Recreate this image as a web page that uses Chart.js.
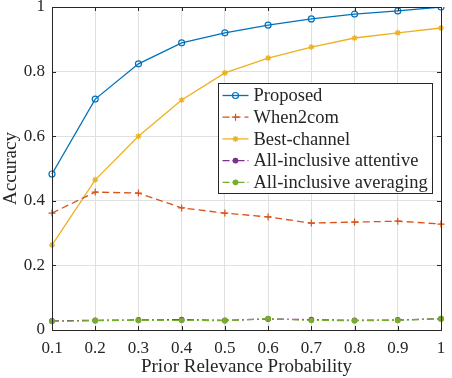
<!DOCTYPE html>
<html>
<head>
<meta charset="utf-8">
<style>
  html, body { margin: 0; padding: 0; background: #fff; }
  canvas { display: block; }
</style>
<script src="https://cdn.jsdelivr.net/npm/chart.js"></script>
</head>
<body>
<canvas id="acc" width="452" height="378"></canvas>
<script>
// Prior relevance probability (x axis) and accuracy per method
const priorLabels = ["0.1", "0.2", "0.3", "0.4", "0.5", "0.6", "0.7", "0.8", "0.9", "1"];
const yTicks = [0, 0.2, 0.4, 0.6, 0.8, 1];

const proposed    = [0.483, 0.715, 0.824, 0.889, 0.920, 0.944, 0.963, 0.978, 0.988, 1.000];
const when2com    = [0.362, 0.427, 0.424, 0.378, 0.362, 0.350, 0.331, 0.334, 0.337, 0.328];
const bestChannel = [0.263, 0.465, 0.600, 0.712, 0.796, 0.842, 0.876, 0.904, 0.920, 0.935];
const attentive   = [0.028, 0.030, 0.031, 0.032, 0.030, 0.034, 0.032, 0.030, 0.031, 0.035];
const averaging   = [0.027, 0.029, 0.030, 0.030, 0.029, 0.035, 0.030, 0.029, 0.030, 0.035];

const SERIF = "'Liberation Serif', 'DejaVu Serif', serif";
const TEXT = "#262626";

function series(label, data, color, style, radius, dash, filled, order) {
    return {
        label: label,
        data: data,
        order: order,
        borderColor: color,
        backgroundColor: filled ? color : "rgba(0,0,0,0)",
        pointBorderColor: color,
        pointBackgroundColor: filled ? color : "rgba(0,0,0,0)",
        pointStyle: style,
        pointRadius: radius,
        pointBorderWidth: 1.2,
        borderWidth: 1.3,
        borderDash: dash,
        tension: 0,
        fill: false,
    };
}

// boxed axes with inward ticks, MATLAB style
const boxPlugin = {
    id: "box",
    afterDraw(chart) {
        const { ctx, chartArea: a, scales } = chart;
        ctx.save();
        ctx.strokeStyle = TEXT;
        ctx.lineWidth = 1;
        ctx.setLineDash([]);
        ctx.beginPath();
        scales.x.ticks.forEach((t, i) => {
            const x = Math.round(scales.x.getPixelForTick(i)) + 0.5;
            ctx.moveTo(x, a.bottom); ctx.lineTo(x, a.bottom - 4);
            ctx.moveTo(x, a.top); ctx.lineTo(x, a.top + 4);
        });
        yTicks.forEach((v) => {
            const y = Math.round(scales.y.getPixelForValue(v)) + 0.5;
            ctx.moveTo(a.left, y); ctx.lineTo(a.left + 4, y);
            ctx.moveTo(a.right, y); ctx.lineTo(a.right - 4, y);
        });
        ctx.stroke();
        ctx.strokeRect(Math.round(a.left) + 0.5, Math.round(a.top) + 0.5,
                       Math.round(a.right - a.left), Math.round(a.bottom - a.top));
        ctx.restore();
    },
};

// legend box drawn inside the plot area, in dataset order
const insideLegend = {
    id: "insideLegend",
    afterDraw(chart) {
        const ctx = chart.ctx;
        const box = { x: 218.5, y: 83.5, w: 214, h: 110 };
        const rowH = 21.7;
        ctx.save();
        ctx.fillStyle = "#fff";
        ctx.strokeStyle = TEXT;
        ctx.lineWidth = 1;
        ctx.setLineDash([]);
        ctx.fillRect(box.x, box.y, box.w, box.h);
        ctx.strokeRect(box.x, box.y, box.w, box.h);
        ctx.font = "18.5px " + SERIF;
        ctx.textBaseline = "middle";
        chart.data.datasets.forEach((ds, i) => {
            const y = box.y + 12 + i * rowH;
            ctx.strokeStyle = ds.borderColor;
            ctx.lineWidth = ds.borderWidth;
            ctx.setLineDash(ds.borderDash || []);
            ctx.beginPath();
            ctx.moveTo(box.x + 4, y);
            ctx.lineTo(box.x + 30, y);
            ctx.stroke();
            ctx.setLineDash([]);
            ctx.fillStyle = ds.pointBackgroundColor;
            ctx.strokeStyle = ds.pointBorderColor;
            ctx.lineWidth = ds.pointBorderWidth;
            Chart.helpers.drawPoint(ctx, {
                pointStyle: ds.pointStyle,
                radius: ds.pointRadius,
                rotation: 0,
                borderWidth: ds.pointBorderWidth,
            }, box.x + 17, y);
            ctx.fillStyle = TEXT;
            ctx.fillText(ds.label, box.x + 35, y + 1);
        });
        ctx.restore();
    },
};

new Chart(document.getElementById("acc").getContext("2d"), {
    type: "line",
    data: {
        labels: priorLabels,
        datasets: [
            series("Proposed", proposed, "#0072BD", "circle", 3, [], false, 0),
            series("When2com", when2com, "#D95319", "cross", 3.5, [7, 4], false, 1),
            series("Best-channel", bestChannel, "#EDB120", "star", 3, [], false, 2),
            series("All-inclusive attentive", attentive, "#7E2F8E", "circle", 2.3, [7, 3, 2, 3], true, 4),
            series("All-inclusive averaging", averaging, "#77AC30", "circle", 2.3, [7, 3, 2, 3], true, 3),
        ],
    },
    options: {
        responsive: false,
        animation: false,
        layout: { padding: { top: 7, right: 11, left: 0, bottom: 0 } },
        plugins: {
            legend: { display: false },
            tooltip: { enabled: false },
        },
        scales: {
            x: {
                type: "category",
                offset: false,
                grid: { color: "#e0e0e0", drawTicks: false },
                border: { color: TEXT },
                ticks: { color: TEXT, font: { family: SERIF, size: 17 }, padding: 8, maxRotation: 0, autoSkip: false },
                title: { display: true, text: "Prior Relevance Probability", color: TEXT,
                         font: { family: SERIF, size: 19 }, padding: { top: 0, bottom: 0 } },
                afterFit(scale) {
                    scale.height = 48;
                    scale.paddingLeft = 0;
                    scale.paddingRight = 0;
                },
            },
            y: {
                min: 0,
                max: 1,
                afterBuildTicks(scale) { scale.ticks = yTicks.map((v) => ({ value: v })); },
                grid: { color: "#e0e0e0", drawTicks: false },
                border: { color: TEXT },
                ticks: { color: TEXT, font: { family: SERIF, size: 17 }, padding: 7,
                         callback: (v) => String(Math.round(v * 10) / 10) },
                title: { display: true, text: "Accuracy", color: TEXT,
                         font: { family: SERIF, size: 19 }, padding: { top: 0, bottom: 0 } },
                afterFit(scale) {
                    scale.width = 52;
                    scale.paddingTop = 0;
                    scale.paddingBottom = 0;
                },
            },
        },
    },
    plugins: [boxPlugin, insideLegend],
});
</script>
</body>
</html>
